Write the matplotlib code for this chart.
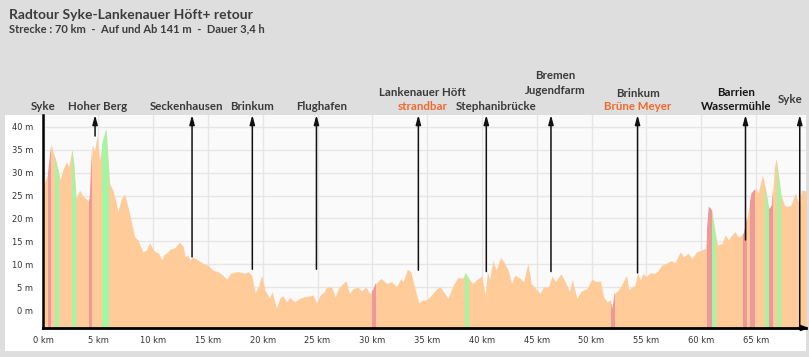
import matplotlib.pyplot as plt
from matplotlib import transforms
from matplotlib.patches import Rectangle

# elevation profile (km, m)
KM = [0.0, 0.1, 0.4, 0.7, 0.9, 1.1, 1.3, 1.52, 1.77, 2.07, 2.31, 2.59, 2.77, 2.98, 3.29, 3.59,
      4.05, 4.2, 4.44, 4.66, 4.87, 5.11, 5.36, 5.72, 6.03, 6.39, 6.79, 7.1, 7.4, 7.7, 8.31, 8.61,
      9.07, 9.38, 9.68, 10.1, 10.5, 10.8, 10.96, 11.35, 11.5, 11.96, 12.4, 12.72, 12.94, 13.18,
      13.33, 13.6, 14.1, 14.55, 15.0, 15.46, 15.9, 16.37, 16.7, 17.1, 17.75, 18.36, 18.66, 19.0,
      19.3, 19.6, 19.9, 20.2, 20.6, 20.85, 21.25, 21.55, 21.85, 22.16, 22.47, 22.9, 23.4, 23.8,
      24.3, 24.6, 24.9, 25.2, 25.6, 25.8, 26.3, 26.6, 26.9, 27.2, 27.6, 27.9, 28.25, 28.7, 29.0,
      29.4, 29.8, 30.07, 30.3, 30.8, 31.3, 31.75, 32.2, 32.6, 32.8, 33.2, 33.5, 33.8, 34.25, 34.5,
      34.95, 35.4, 35.9, 36.2, 36.6, 36.9, 37.4, 37.8, 38.2, 38.5, 38.8, 39.15, 39.5, 40.0, 40.3,
      40.5, 40.7, 41.0, 41.3, 41.7, 42.0, 42.4, 42.7, 43.0, 43.5, 43.8, 44.2, 44.5, 45.0, 45.3,
      45.6, 46.05, 46.4, 46.7, 47.2, 47.6, 48.0, 48.25, 48.65, 49.1, 49.6, 50.0, 50.5, 50.8, 51.1,
      51.4, 51.7, 51.9, 52.1, 52.45, 52.75, 53.2, 53.4, 53.7, 53.97, 54.2, 54.45, 54.7, 55.0, 55.3,
      55.8, 56.1, 56.4, 56.9, 57.3, 57.6, 58.1, 58.4, 58.8, 59.15, 59.6, 60.06, 60.4, 60.7, 60.98,
      61.3, 61.5, 61.9, 62.2, 62.5, 62.8, 63.1, 63.4, 63.7, 63.9, 64.2, 64.6, 65.0, 65.2, 65.6,
      65.9, 66.2, 66.45, 66.7, 66.85, 67.05, 67.3, 67.6, 67.8, 68.2, 68.6, 68.8, 68.98, 69.15, 69.6]
ELEV = [26.0, 28.0, 29.8, 36.2, 34.2, 32.9, 30.9, 28.4, 30.6, 32.4, 31.3, 35.1, 32.0, 24.4, 26.2, 24.9,
        23.9, 24.2, 36.0, 34.9, 38.0, 32.8, 36.4, 39.5, 27.7, 25.8, 21.5, 24.4, 25.3, 22.6, 16.0, 15.3,
        12.7, 13.1, 14.7, 12.9, 12.4, 10.9, 12.0, 12.7, 13.2, 13.6, 14.8, 14.0, 11.6, 12.0,
        10.9, 11.6, 10.9, 10.2, 9.8, 8.7, 8.4, 7.6, 6.7, 8.1, 8.4, 8.0, 8.4, 7.6,
        3.8, 5.1, 7.6, 4.4, 2.6, 4.0, 0.4, 2.6, 3.1, 1.8, 2.8, 1.8, 2.6, 2.9,
        3.1, 3.3, 1.5, 3.1, 4.0, 5.0, 5.0, 2.9, 4.7, 5.5, 6.4, 3.6, 4.7, 5.0, 4.2,
        5.0, 3.6, 4.4, 5.8, 6.9, 5.8, 6.2, 5.1, 6.9, 6.2, 8.9, 8.4, 5.5, 1.5, 2.2,
        2.2, 3.3, 4.7, 5.1, 3.6, 2.6, 5.5, 7.1, 6.9, 8.1, 6.9, 5.8, 6.6, 7.4, 3.3,
        8.4, 6.6, 10.8, 8.7, 11.5, 10.5, 8.7, 5.8, 7.6, 6.9, 6.2, 10.2, 5.8, 4.4, 3.6,
        5.0, 5.0, 7.4, 6.2, 7.9, 6.2, 4.0, 6.7, 2.6, 4.2, 4.7, 6.7, 6.2, 6.4, 2.9,
        1.8, 2.2, 0.2, 3.6, 4.4, 5.5, 7.6, 4.4, 5.0, 5.5, 8.1, 6.6, 8.0, 7.3, 8.1,
        8.0, 8.7, 9.8, 10.3, 10.8, 10.3, 12.7, 11.6, 12.4, 11.3, 12.7, 13.1, 13.5, 22.6, 21.8,
        16.7, 14.2, 14.5, 16.4, 15.3, 16.4, 17.1, 15.9, 16.4, 16.7, 20.4, 25.5, 26.6, 25.5, 29.5,
        26.2, 22.0, 22.9, 31.3, 33.1, 29.8, 25.1, 22.9, 22.6, 22.9, 25.6, 24.0, 23.3, 26.2, 26.0]

# steep stretches (km from, km to)
CLIMBS = [(0.39, 0.70), (4.14, 4.45), (30.0, 30.3), (51.8, 52.15), (60.55, 60.95),
          (63.86, 64.17), (64.5, 64.9), (66.2, 66.6)]
DESCENTS = [(1.07, 1.40), (2.59, 2.92), (5.3, 5.96), (38.5, 38.8), (60.95, 61.4),
            (65.8, 66.2), (66.9, 67.3)]

# waypoints: km, elevation where the arrow starts, label lines
WAY_KM = [0.0, 4.7, 13.55, 19.05, 24.9, 34.2, 40.4, 46.3, 54.2, 64.05, 69.0]
WAY_BASE = [None, 38.0, 11.6, 8.9, 8.9, 8.7, 8.4, 8.4, 8.1, 15.3, -3.93]
WAY_TEXT = [["Syke"], ["Hoher Berg"], ["Seckenhausen"], ["Brinkum"], ["Flughafen"],
            ["Lankenauer Höft", "strandbar"], ["Stephanibrücke"], ["Bremen", "Jugendfarm"],
            ["Brinkum", "Brüne Meyer"], ["Barrien", "Wassermühle"], ["Syke"]]

TITLE = "Radtour Syke-Lankenauer Höft+ retour"
SUBTITLE = "Strecke : 70 km  -  Auf und Ab 141 m  -  Dauer 3,4 h"

# layout (pixels)
W, H = 809, 357
LABEL_DX = [0, 3, -6, 0, 5, 4, 10, 4, 0, -9, -10]
LABEL_BASELINES = [[110], [110], [110], [110], [110], [96, 109.5], [109.5], [79, 94],
                   [97, 110.5], [96, 110], [103]]
LABEL_COLORS = [["#3a3a3a"], ["#3a3a3a"], ["#3a3a3a"], ["#3a3a3a"], ["#3a3a3a"],
                ["#3a3a3a", "#f06a2c"], ["#3a3a3a"], ["#3a3a3a", "#3a3a3a"],
                ["#3a3a3a", "#f06a2c"], ["#151515", "#151515"], ["#3a3a3a"]]

PEACH = "#ffcc99"
RED = "#f0979a"
GREEN = "#a3f5a3"
YMIN, YMAX = -3.93, 42.6

plt.rcParams["font.family"] = ["Lato", "DejaVu Sans"]

fig = plt.figure(figsize=(W / 100, H / 100), dpi=100, facecolor="#dedede")
fig.add_artist(Rectangle((5 / W, 1 - 351 / H), 801 / W, 236 / H, transform=fig.transFigure,
                         facecolor="white", edgecolor="none", zorder=0))

ax = fig.add_axes([43 / W, 1 - 328 / H, (806 - 43) / W, (328 - 115) / H])
ax.set_facecolor("#fafafa")
ax.set_xlim(-0.05, 69.57)
ax.set_ylim(YMIN, YMAX)

area = ax.fill_between(KM, ELEV, YMIN, color=PEACH, lw=0, zorder=2)
clip = area.get_paths()[0]
for spans, col in [(CLIMBS, RED), (DESCENTS, GREEN)]:
    for a, b in spans:
        band = ax.axvspan(a, b, color=col, lw=0, zorder=3)
        band.set_clip_path(clip, ax.transData)

ax.set_xticks(range(0, 70, 5))
ax.set_xticklabels([f"{v} km" for v in range(0, 70, 5)], family="DejaVu Sans")
ax.set_yticks(range(0, 41, 5))
ax.set_yticklabels([f"{v} m" for v in range(0, 41, 5)], family="DejaVu Sans")
ax.tick_params(length=0, labelsize=6, colors="#333333")
ax.tick_params(axis="x", pad=6)
ax.tick_params(axis="y", pad=7)
ax.grid(color="#e6e6e6", lw=1)
ax.set_axisbelow(True)

for side in ["top", "right"]:
    ax.spines[side].set_visible(False)
ax.spines["left"].set_color("black")
ax.spines["left"].set_linewidth(1.8)
ax.spines["left"].set_zorder(6)
ax.spines["bottom"].set_color("black")
ax.spines["bottom"].set_linewidth(2)
ax.spines["bottom"].set_zorder(6)
ax.annotate("", xy=(1.004, 0), xycoords="axes fraction", xytext=(0.99, 0),
            arrowprops=dict(arrowstyle="-|>,head_length=0.4,head_width=0.15", lw=1.5,
                            color="black", shrinkA=0, shrinkB=0), annotation_clip=False)

for km, base in zip(WAY_KM, WAY_BASE):
    if base is None:
        continue
    ax.annotate("", xy=(km, YMAX), xytext=(km, base),
                arrowprops=dict(arrowstyle="-|>,head_length=0.55,head_width=0.15", lw=1.1,
                                color="#111111", shrinkA=0, shrinkB=0),
                annotation_clip=False, zorder=7)

blend = transforms.blended_transform_factory(ax.transData, fig.transFigure)
for km, lines, dx, ys, cols in zip(WAY_KM, WAY_TEXT, LABEL_DX, LABEL_BASELINES, LABEL_COLORS):
    tr = transforms.offset_copy(blend, fig=fig, x=dx, y=0, units="dots")
    for line, y, c in zip(lines, ys, cols):
        ax.text(km, 1 - y / H, line, transform=tr, ha="center", va="baseline",
                fontsize=8.3, weight="bold", color=c, clip_on=False)

fig.text(9 / W, 1 - 19 / H, TITLE, fontsize=10, weight="bold", color="#3c3c3c", va="baseline")
fig.text(9 / W, 1 - 32.3 / H, SUBTITLE, fontsize=8, weight="bold", color="#3c3c3c", va="baseline")

fig.savefig("out.png", dpi=100, facecolor=fig.get_facecolor())
